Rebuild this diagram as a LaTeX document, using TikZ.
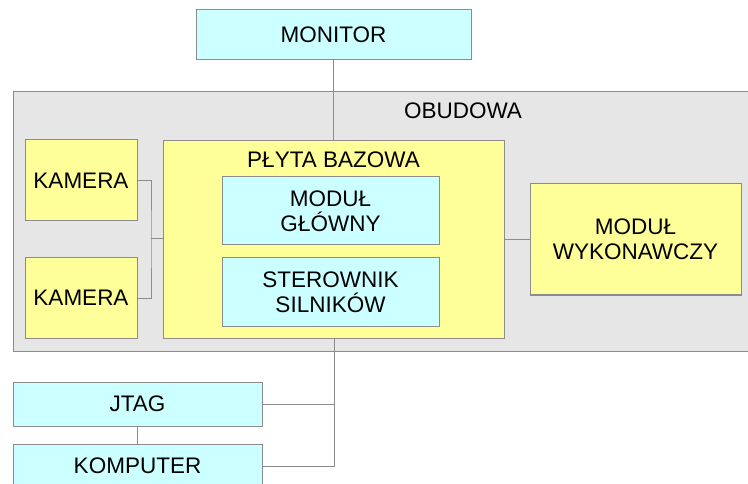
\documentclass[tikz,border=0pt]{standalone}
\usepackage{fontspec}
\setmainfont{Liberation Sans}
\definecolor{cyanfill}{HTML}{CCFFFF}
\definecolor{yellowfill}{HTML}{FFFF99}
\definecolor{grayfill}{HTML}{E6E6E6}
\definecolor{edge}{HTML}{8C8C8C}
\begin{document}
\begin{tikzpicture}[x=1pt,y=-1pt,
  every node/.style={font=\fontsize{22.5}{25}\selectfont, inner sep=0pt, align=center},
  box/.style={draw=edge, line width=1pt, rectangle},
  cbox/.style={box, fill=cyanfill},
  ybox/.style={box, fill=yellowfill},
  wire/.style={draw=edge, line width=1pt}]
\useasboundingbox (0,0) rectangle (748,484);
% housing
\node[box, fill=grayfill, minimum width=740pt, minimum height=260pt, anchor=north west] (obudowa) at (13,91) {};
\node (obtitle) at (463,111) {OBUDOWA};
% monitor
\node[cbox, minimum width=275pt, minimum height=50pt] (monitor) at (333.5,35) {MONITOR};
% cameras
\node[ybox, minimum width=112pt, minimum height=81pt] (kam1) at (81,180.5) {KAMERA};
\node[ybox, minimum width=112pt, minimum height=80pt] (kam2) at (81,298) {KAMERA};
% base board
\node[ybox, minimum width=341pt, minimum height=198pt, anchor=north west] (plyta) at (163,140) {};
\node (pltitle) at (333.5,160) {PŁYTA BAZOWA};
\node[cbox, minimum width=217pt, minimum height=68pt] (glowny) at (330.5,211) {MODUŁ\\GŁÓWNY};
\node[cbox, minimum width=217pt, minimum height=68pt] (sterownik) at (330.5,292) {STEROWNIK\\SILNIKÓW};
% executive module
\node[ybox, minimum width=211pt, minimum height=111pt] (wyk) at (635.5,239.5) {MODUŁ\\WYKONAWCZY};
% jtag, computer
\node[cbox, minimum width=249pt, minimum height=44pt] (jtag) at (137.5,404) {JTAG};
\node[cbox, minimum width=249pt, minimum height=60pt, anchor=north] (komp) at (137.5,444) {};
\node (komptext) at (137.5,466) {KOMPUTER};
% connectors
\draw[wire] (monitor.south) -- (monitor.south |- plyta.north);
\coordinate (kj) at (151,239);
\draw[wire] (kam1.east) -| (kj) |- (kam2.east);
\draw[wire] (kj) -- (kj -| plyta.west);
\draw[wire] (plyta.east |- wyk.west) -- (wyk.west);
\coordinate (bus) at (334,466);
\draw[wire] (334,338) -- (bus) -- (bus -| komp.east);
\draw[wire] (jtag.east) -- (jtag.east -| bus);
\draw[wire] (jtag.south) -- (komp.north);
\end{tikzpicture}
\end{document}
